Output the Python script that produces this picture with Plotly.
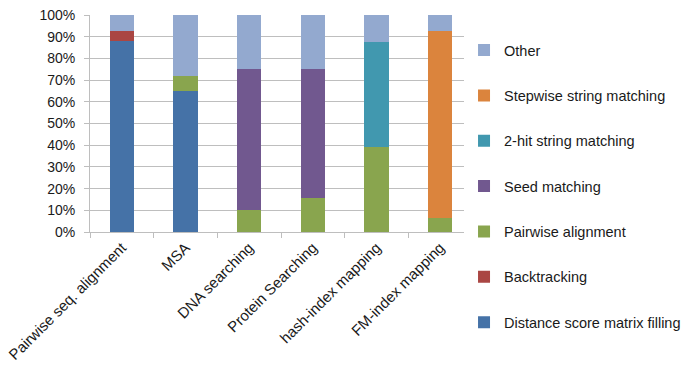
import plotly.graph_objects as go

# Workload categories
categories = [
    "Pairwise seq. alignment",
    "MSA",
    "DNA searching",
    "Protein Searching",
    "hash-index mapping",
    "FM-index mapping",
]

# Share of runtime (%) for each stage, bottom of the stack first
distance_score = [88, 65, 0, 0, 0, 0]
backtracking = [4.7, 0, 0, 0, 0, 0]
pairwise_alignment = [0, 6.8, 10.2, 15.7, 39, 6.5]
seed_matching = [0, 0, 65, 59.3, 0, 0]
two_hit = [0, 0, 0, 0, 48.4, 0]
stepwise = [0, 0, 0, 0, 0, 86.1]
other = [7.3, 28.2, 24.8, 25, 12.6, 7.4]

series = [
    ("Distance score matrix filling", distance_score, "#4572A7"),
    ("Backtracking", backtracking, "#AA4643"),
    ("Pairwise alignment", pairwise_alignment, "#89A54E"),
    ("Seed matching", seed_matching, "#71588F"),
    ("2-hit string matching", two_hit, "#4198AF"),
    ("Stepwise string matching", stepwise, "#DB843D"),
    ("Other", other, "#93A9CF"),
]

FONT = "Liberation Sans, Arial, sans-serif"

fig = go.Figure()
n = len(series)
for i, (name, vals, color) in enumerate(series):
    fig.add_trace(go.Bar(
        name=name, x=categories, y=vals,
        marker=dict(color=color, line=dict(width=0)),
        legendgroup=name,
        legendrank=n - i,  # top of the stack listed first
    ))

fig.update_layout(
    barmode="stack",
    bargap=0.62,
    width=690, height=367,
    margin=dict(l=90, r=218, t=15, b=135, autoexpand=False),
    paper_bgcolor="white", plot_bgcolor="white",
    font=dict(family=FONT, size=14, color="#1a1a1a"),
    legend=dict(
        traceorder="grouped",
        tracegroupgap=23.5,
        xref="container", yref="container",
        x=0.6725, xanchor="left",
        y=0.907, yanchor="top",
        font=dict(size=14.5),
        itemwidth=30,
        maxheight=360,
    ),
    showlegend=True,
)

fig.update_yaxes(
    range=[0, 100], dtick=10, ticksuffix="%",
    showgrid=True, gridcolor="#BEBEBE", gridwidth=1,
    showline=True, linecolor="#BEBEBE", linewidth=1,
    ticks="outside", ticklen=5, tickcolor="#BEBEBE",
    ticklabelstandoff=6, automargin=False,
    zeroline=False, fixedrange=True,
)
fig.update_xaxes(
    tickangle=-45, tickson="boundaries",
    ticks="outside", ticklen=5, tickcolor="#BEBEBE",
    showline=True, linecolor="#BEBEBE", linewidth=1,
    showgrid=False, automargin=False,
    tickfont=dict(size=15),
)

fig.write_html("out.html")
